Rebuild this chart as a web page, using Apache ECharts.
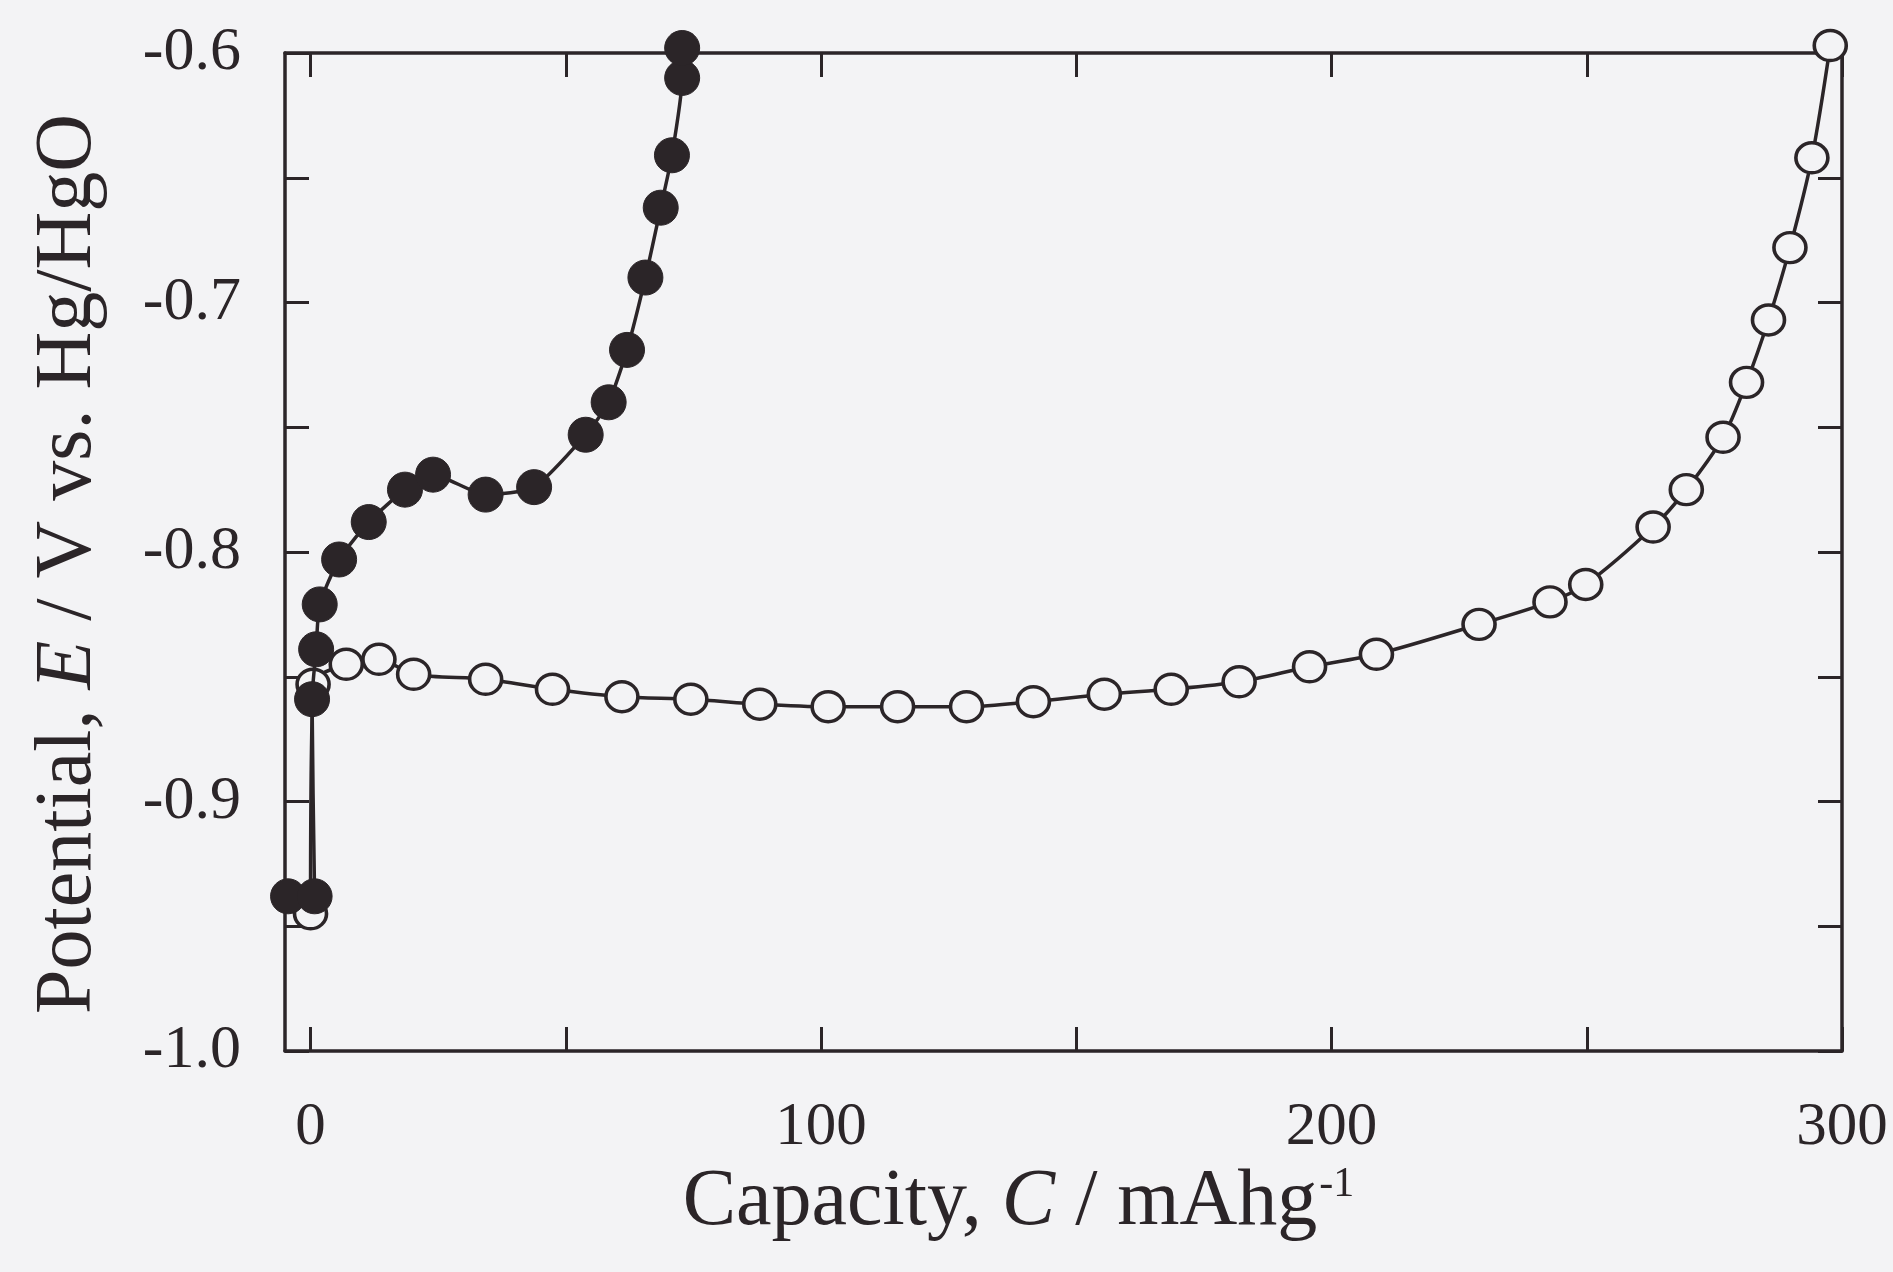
<!DOCTYPE html>
<html>
<head>
<meta charset="utf-8">
<script src="https://cdn.jsdelivr.net/npm/echarts@6/dist/echarts.min.js"></script>
<style>
  html, body { margin: 0; padding: 0; background: #f3f3f5; }
  #chart { width: 1893px; height: 1272px; }
</style>
</head>
<body>
<div id="chart"></div>
<script>
// Discharge curve, open circles
const capacityOpen = [0, 0.5, 7.0, 13.4, 20.2, 34.3, 47.4, 61.0, 74.5, 88.0, 101.4, 115.0, 128.5, 141.6, 155.5, 168.6, 181.9, 195.7, 208.8, 228.9, 242.8, 249.8, 263.0, 269.5, 276.7, 281.3, 285.6, 289.8, 294.1, 297.7];
const potentialOpen = [-0.945, -0.853, -0.845, -0.843, -0.849, -0.851, -0.855, -0.858, -0.859, -0.861, -0.862, -0.862, -0.862, -0.860, -0.857, -0.855, -0.852, -0.846, -0.841, -0.829, -0.820, -0.813, -0.790, -0.775, -0.754, -0.732, -0.707, -0.678, -0.642, -0.597];

// Discharge curve, filled circles
const capacityFilled = [-4.4, 0.8, 0.3, 1.1, 1.8, 5.6, 11.4, 18.5, 24.0, 34.3, 43.8, 53.9, 58.4, 62.0, 65.6, 68.6, 70.8, 72.8, 72.8];
const potentialFilled = [-0.938, -0.938, -0.859, -0.839, -0.821, -0.803, -0.788, -0.775, -0.769, -0.777, -0.774, -0.753, -0.740, -0.719, -0.690, -0.662, -0.641, -0.610, -0.598];

// Axis ticks and labels
const xTickValues = [0, 50, 100, 150, 200, 250, 300];
const xLabelValues = [0, 100, 200, 300];
const yTickValues = [-1.0, -0.95, -0.9, -0.85, -0.8, -0.75, -0.7, -0.65, -0.6];
const yLabelValues = [-1.0, -0.9, -0.8, -0.7, -0.6];

const INK = '#2b2528';
const BG = '#f3f3f5';
const SERIF = '"Liberation Serif", "DejaVu Serif", serif';

const zip = (xs, ys) => xs.map((x, i) => [x, ys[i]]);

const tickStyle = { inside: true, length: 24, lineStyle: { color: INK, width: 3 } };
const lineStyleAxis = { show: true, onZero: false, lineStyle: { color: INK, width: 3.5 } };

const chart = echarts.init(document.getElementById('chart'), null, { renderer: 'canvas' });

chart.setOption({
  backgroundColor: BG,
  animation: false,
  grid: { left: 285, right: 51, top: 53, bottom: 221, containLabel: false },
  xAxis: [
    {
      type: 'value', position: 'bottom', min: -5, max: 300,
      axisLine: lineStyleAxis,
      axisTick: Object.assign({ customValues: xTickValues }, tickStyle),
      axisLabel: {
        customValues: xLabelValues, margin: 46,
        color: INK, fontFamily: SERIF, fontSize: 61
      },
      splitLine: { show: false },
      name: '{t|Capacity, }{i|C}{t| / mAhg}{s|-1}',
      nameLocation: 'middle', nameGap: 106,
      nameTextStyle: {
        padding: [0, 90, 0, 0],
        rich: {
          t: { fontFamily: SERIF, fontSize: 80, color: INK },
          i: { fontFamily: SERIF, fontSize: 80, fontStyle: 'italic', color: INK },
          s: { fontFamily: SERIF, fontSize: 42, color: INK, padding: [0, 0, 36, 2] }
        }
      }
    },
    {
      type: 'value', position: 'top', min: -5, max: 300,
      axisLine: lineStyleAxis,
      axisTick: Object.assign({ customValues: xTickValues }, tickStyle),
      axisLabel: { show: false },
      splitLine: { show: false }
    }
  ],
  yAxis: [
    {
      type: 'value', position: 'left', min: -1.0, max: -0.6,
      axisLine: lineStyleAxis,
      axisTick: Object.assign({ customValues: yTickValues }, tickStyle),
      axisLabel: {
        customValues: yLabelValues, margin: 44,
        color: INK, fontFamily: SERIF, fontSize: 62,
        formatter: v => v.toFixed(1)
      },
      splitLine: { show: false },
      name: '{t|Potential, }{i|E}{t| / V vs. Hg/HgO}',
      nameLocation: 'middle', nameGap: 176, nameRotate: 90,
      nameTextStyle: {
        padding: [0, 24, 0, 0],
        rich: {
          t: { fontFamily: SERIF, fontSize: 80, color: INK },
          i: { fontFamily: SERIF, fontSize: 80, fontStyle: 'italic', color: INK }
        }
      }
    },
    {
      type: 'value', position: 'right', min: -1.0, max: -0.6,
      axisLine: lineStyleAxis,
      axisTick: Object.assign({ customValues: yTickValues }, tickStyle),
      axisLabel: { show: false },
      splitLine: { show: false }
    }
  ],
  series: [
    {
      type: 'line', name: 'open',
      data: zip(capacityOpen, potentialOpen),
      xAxisIndex: 0, yAxisIndex: 0,
      smooth: 0.3, clip: false,
      symbol: 'circle', symbolSize: [32, 30],
      lineStyle: { color: INK, width: 3.5 },
      itemStyle: { color: BG, borderColor: INK, borderWidth: 3.5 },
      z: 2
    },
    {
      type: 'line', name: 'filled',
      data: zip(capacityFilled, potentialFilled),
      xAxisIndex: 0, yAxisIndex: 0,
      smooth: 0.2, clip: false,
      symbol: 'circle', symbolSize: 35,
      lineStyle: { color: INK, width: 3.5 },
      itemStyle: { color: INK, borderColor: INK, borderWidth: 1 },
      z: 3
    }
  ]
});
</script>
</body>
</html>
